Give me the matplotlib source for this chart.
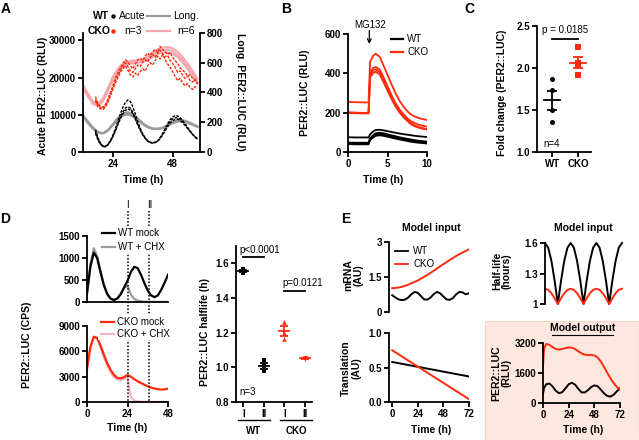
import numpy as np
import matplotlib
matplotlib.use("Agg")
import matplotlib.pyplot as plt
from matplotlib.lines import Line2D
from matplotlib.patches import Rectangle
import matplotlib.transforms as mtrans

plt.rcParams['font.family'] = ['Liberation Sans', 'DejaVu Sans']
plt.rcParams['font.weight'] = 'bold'

# ---------------- DATA ----------------
# Panel A: acute recordings (RLU, left axis), hourly from 17 h
acute_t = np.arange(17, 59, 1)
acute_wt_1 = [6000, 3800, 2400, 1600, 1500, 2000, 3100, 4500, 6300, 8300,
              10200, 12000, 13300, 14000, 13600, 12200, 10300, 8200, 6400, 4900,
              3800, 3000, 2600, 2500, 2600, 3000, 3900, 5000, 6300, 7600,
              8700, 9400, 9800, 9700, 9300, 8500, 7600, 6600, 5700, 4800,
              4100, 3600]
acute_wt_2 = [5400, 3500, 2200, 1500, 1400, 1900, 2900, 4200, 5800, 7600,
              9300, 10800, 11800, 12200, 11800, 10700, 9200, 7500, 6000, 4700,
              3700, 3000, 2600, 2500, 2600, 3000, 3800, 4800, 6000, 7200,
              8200, 8900, 9200, 9200, 8900, 8200, 7400, 6500, 5600, 4800,
              4100, 3500]
acute_wt_3 = [5000, 3300, 2100, 1500, 1500, 2000, 2900, 4100, 5600, 7300,
              8900, 10200, 11200, 11600, 11300, 10300, 8900, 7300, 5800, 4600,
              3600, 2900, 2500, 2400, 2500, 2900, 3600, 4600, 5700, 6800,
              7800, 8400, 8700, 8800, 8500, 7900, 7100, 6300, 5500, 4700,
              4000, 3400]
acute_cko_1 = [14900, 13000, 12300, 12000, 12800, 14200, 16000, 17800, 19800, 21200,
               22600, 23800, 24800, 24300, 23200, 22400, 23600, 24800, 25200, 24600,
               25800, 26600, 25900, 26900, 27600, 26800, 28400, 27600, 27000, 26200,
               26800, 25400, 24600, 23800, 22600, 22000, 21400, 20400, 20800, 19800,
               19200, 18600]
acute_cko_2 = [14200, 12600, 11900, 11800, 12400, 13800, 15600, 17400, 19200, 20600,
               22000, 23200, 24000, 23000, 21800, 21400, 22400, 23400, 23000, 24200,
               24800, 24200, 25400, 26200, 25400, 26600, 27400, 26400, 25600, 26000,
               24600, 23800, 22800, 21400, 21800, 20600, 19800, 20400, 19200, 18800,
               19600, 18200]
acute_cko_3 = [13800, 12200, 11600, 11400, 12000, 13400, 15000, 16800, 18600, 20000,
               21400, 22400, 23200, 22000, 20800, 20200, 21200, 20600, 21600, 22400,
               21800, 23200, 24000, 23400, 24600, 25800, 25000, 26200, 24800, 23600,
               22800, 21600, 20400, 19200, 19800, 18600, 17800, 18400, 17400, 16800,
               17600, 17200]
# Panel A: longitudinal recordings (RLU, right axis), every 2 h from 12 h
long_t = np.arange(12, 60, 2)
long_wt_1 = [245, 200, 160, 130, 125, 145, 185, 225, 253, 262, 248, 220,
             190, 168, 156, 155, 162, 178, 196, 208, 210, 200, 185, 170]
long_wt_2 = [235, 192, 155, 128, 124, 142, 180, 218, 244, 252, 240, 214,
             186, 166, 155, 154, 160, 175, 192, 203, 205, 196, 182, 168]
long_wt_3 = [250, 206, 166, 135, 128, 148, 188, 230, 258, 268, 254, 226,
             195, 172, 159, 157, 164, 181, 200, 213, 215, 205, 189, 174]
long_cko_1 = [440, 385, 330, 318, 350, 420, 495, 550, 585, 600, 605, 608,
              612, 630, 655, 675, 686, 688, 680, 655, 618, 572, 522, 472]
long_cko_2 = [425, 372, 322, 310, 340, 408, 482, 538, 574, 590, 596, 600,
              604, 618, 640, 658, 668, 670, 662, 638, 602, 558, 510, 462]
long_cko_3 = [450, 395, 340, 326, 360, 430, 505, 560, 594, 610, 614, 617,
              622, 642, 668, 690, 702, 706, 698, 675, 640, 596, 545, 492]

# Panel B: MG132 response (RLU)
b_t = [0, 1, 2, 2.6, 2.8, 3.2, 3.5, 4, 4.5, 5, 5.5, 6, 6.5, 7, 7.5, 8, 8.5, 9, 9.5, 10]
b_wt_1 = [75, 74, 74, 74, 90, 105, 112, 113, 110, 106, 102, 98, 94, 91, 88, 85, 82, 80, 78, 76]
b_wt_2 = [48, 47, 47, 47, 70, 86, 95, 98, 95, 90, 85, 80, 75, 71, 67, 63, 60, 57, 55, 53]
b_wt_3 = [44, 43, 43, 43, 65, 80, 88, 91, 88, 84, 79, 74, 70, 66, 62, 58, 55, 52, 50, 48]
b_wt_4 = [40, 39, 39, 39, 60, 74, 82, 85, 82, 78, 73, 68, 64, 60, 56, 52, 49, 47, 45, 43]
b_cko_1 = [255, 253, 252, 252, 460, 490, 500, 485, 440, 392, 345, 300, 262, 232, 208, 190, 180, 172, 167, 163]
b_cko_2 = [200, 199, 198, 198, 405, 428, 432, 420, 380, 335, 290, 250, 218, 193, 172, 156, 146, 138, 133, 129]
b_cko_3 = [198, 197, 196, 196, 392, 415, 420, 408, 366, 322, 278, 240, 208, 183, 163, 145, 134, 126, 121, 117]
b_cko_4 = [202, 200, 199, 199, 380, 402, 408, 396, 355, 312, 270, 233, 202, 178, 158, 140, 130, 123, 118, 115]
mg132_time = 2.7

# Panel C: fold change
c_groups = ['WT', 'CKO']
c_wt = [1.865, 1.74, 1.50, 1.36]
c_cko = [2.25, 2.06, 2.03, 1.92]

# Panel D: CHX chase (CPS), every 2 h
d_t = np.arange(0, 50, 2)
d_wt_mock = [200, 800, 1120, 1000, 680, 380, 180, 75, 45, 80, 180, 330, 480,
             680, 800, 770, 620, 430, 260, 150, 110, 150, 280, 440, 620]
d_wt_chx = [180, 850, 1220, 1050, 700, 390, 185, 75, 45, 80, 180, 320, 370,
            170, 70, 30, 15, 8, 5, 4, 3, 3, 2, 2, 2]
d_cko_mock = [4000, 6500, 7700, 7600, 6700, 5600, 4600, 3800, 3200, 2850, 2800, 2950, 3200,
              3000, 2700, 2450, 2250, 2050, 1850, 1700, 1600, 1520, 1480, 1500, 1580]
d_cko_chx = [3800, 6400, 7800, 7500, 6500, 5300, 4300, 3500, 2900, 2650, 2600, 2750, 2900,
             600, 150, 60, 30, 20, 15, 12, 10, 10, 10, 10, 10]
d_chx_times = [24, 37]
d_chx_labels = ['I', 'II']
# Panel D: half-lives (h)
d_hl_labels = ['I', 'II', 'I', 'II']
d_hl_wt_I = [1.545, 1.555, 1.565]
d_hl_wt_II = [0.98, 1.01, 1.04]
d_hl_cko_I = [1.16, 1.20, 1.26]
d_hl_cko_II = [1.048, 1.052, 1.056]

# Panel E: model (every 3 h)
e_t = np.arange(0, 75, 3)
e_mrna_wt = [0.72, 0.62, 0.54, 0.51, 0.53, 0.62, 0.76, 0.86, 0.82, 0.68, 0.54, 0.53, 0.62,
             0.77, 0.86, 0.80, 0.66, 0.54, 0.52, 0.60, 0.76, 0.86, 0.84, 0.76, 0.80]
e_mrna_cko = [1.02, 1.03, 1.05, 1.08, 1.12, 1.17, 1.23, 1.29, 1.35, 1.43, 1.51, 1.59, 1.68,
              1.77, 1.86, 1.96, 2.05, 2.14, 2.23, 2.32, 2.40, 2.48, 2.55, 2.62, 2.68]
e_hl_wt = [1.6, 1.554, 1.424, 1.23, 1.0, 1.23, 1.424, 1.554,
           1.6, 1.554, 1.424, 1.23, 1.0, 1.23, 1.424, 1.554,
           1.6, 1.554, 1.424, 1.23, 1.0, 1.23, 1.424, 1.554, 1.6]
e_hl_cko = [1.15, 1.139, 1.106, 1.057, 1.0, 1.057, 1.106, 1.139,
            1.15, 1.139, 1.106, 1.057, 1.0, 1.057, 1.106, 1.139,
            1.15, 1.139, 1.106, 1.057, 1.0, 1.057, 1.106, 1.139, 1.15]
e_tr_t = [0, 72]
e_tr_wt = [0.58, 0.37]
e_tr_cko = [0.75, 0.04]
e_out_t = [0, 1, 3, 6, 9, 12, 15, 18, 21, 24, 27, 30, 33, 36, 39, 42, 45, 48, 51, 54, 57, 60, 63, 66, 69, 72]
e_out_wt = [500, 800, 1000, 1040, 880, 650, 520, 580, 780, 1000, 1080, 980, 760,
            570, 560, 680, 850, 940, 900, 720, 520, 380, 340, 440, 620, 780]
e_out_cko = [2000, 2900, 3150, 3100, 2980, 2880, 2850, 2880, 2930, 2960, 2950, 2880, 2760,
             2650, 2580, 2560, 2560, 2540, 2430, 2220, 1930, 1620, 1330, 1070, 860, 720]

# ---------------- STYLE ----------------
RED = '#ff2a0d'
PINK = '#f5a6ae'
GRAY = '#9b9b9b'
LPINK = '#f7b6c6'
BG = '#fde7de'
W, H = 639, 440
fig = plt.figure(figsize=(W / 100, H / 100), dpi=100)
fig.patch.set_facecolor('white')


def fx(x):
    return x / W


def fy(y):
    return 1 - y / H


def axpx(l, t, r, b):
    ax = fig.add_axes([l / W, 1 - b / H, (r - l) / W, (b - t) / H])
    ax.patch.set_visible(False)
    return ax


LW_SP = 1.3


def style(ax, left=True, bottom=True, right=False):
    ax.spines['top'].set_visible(False)
    ax.spines['right'].set_visible(right)
    ax.spines['left'].set_visible(left)
    ax.spines['bottom'].set_visible(bottom)
    for s in ax.spines.values():
        s.set_linewidth(LW_SP)
    ax.tick_params(width=LW_SP, length=3.5, labelsize=7, pad=1.5)


def ftext(x, y, s, size=7, weight='bold', ha='center', va='center', **kw):
    fig.text(fx(x), fy(y), s, fontsize=size, fontweight=weight, ha=ha, va=va, zorder=4, **kw)


def fline(x0, x1, y0, y1, color='k', lw=1.3, **kw):
    fig.add_artist(Line2D([fx(x0), fx(x1)], [fy(y0), fy(y1)], color=color, lw=lw,
                          transform=fig.transFigure, zorder=4, **kw))


def legend_entry(x0, x1, y, color, label, tx, lw=1.6):
    fline(x0, x1, y, y, color=color, lw=lw)
    ftext(tx, y, label, size=7, weight='normal', ha='left')


def white_box(x0, y0, x1, y1):
    fig.add_artist(Rectangle((fx(x0), fy(y1)), fx(x1) - fx(x0), fy(y0) - fy(y1),
                             transform=fig.transFigure, facecolor='white', edgecolor='none', zorder=3))


# panel letters
for lab, x, y in [('A', 6, 9), ('B', 286, 9), ('C', 469, 9), ('D', 5, 219), ('E', 346, 219)]:
    ftext(x, y, lab, size=10)

# ---------------- PANEL A ----------------
axA = axpx(83, 33, 200, 152)
axA2 = axA.twinx()
axA2.patch.set_visible(False)
axA.set_zorder(axA2.get_zorder() + 1)
for rep in [long_wt_1, long_wt_2, long_wt_3]:
    axA2.plot(long_t, rep, color=GRAY, lw=1.4)
for rep in [long_cko_1, long_cko_2, long_cko_3]:
    axA2.plot(long_t, rep, color=PINK, lw=1.4)
for rep in [acute_wt_1, acute_wt_2, acute_wt_3]:
    axA.plot(acute_t, rep, color='k', lw=1.0, ls=(0, (2, 1)))
for rep in [acute_cko_1, acute_cko_2, acute_cko_3]:
    axA.plot(acute_t, rep, color=RED, lw=1.0, ls=(0, (2, 1)))
axA.set_xlim(12, 59)
axA.set_ylim(0, 32000)
axA2.set_ylim(0, 800)
axA.set_xticks([24, 48])
axA.set_yticks([0, 10000, 20000, 30000])
axA2.set_yticks([0, 200, 400, 600, 800])
style(axA)
style(axA2, left=False, bottom=False, right=True)
ftext(43, 96, 'Acute PER2::LUC (RLU)', size=7.5, rotation=90)
ftext(240, 92, 'Long. PER2::LUC (RLU)', size=7.5, rotation=270)
ftext(143, 180, 'Time (h)', size=7.5)
# legend A
ftext(101, 16, 'WT', size=7.5)
fig.add_artist(Line2D([fx(113)], [fy(16)], marker='o', ms=2.2, color='k', lw=0, transform=fig.transFigure))
ftext(132, 16, 'Acute', size=7.5, weight='normal')
fline(147, 170, 16, 16, color=GRAY, lw=1.6)
ftext(186, 16, 'Long.', size=7.5, weight='normal')
ftext(99, 31, 'CKO', size=7.5)
fig.add_artist(Line2D([fx(113)], [fy(31)], marker='o', ms=2.2, color=RED, lw=0, transform=fig.transFigure))
ftext(133, 31, 'n=3', size=7.5, weight='normal')
fline(147, 170, 31, 31, color=PINK, lw=1.6)
ftext(186, 31, 'n=6', size=7.5, weight='normal')

# ---------------- PANEL B ----------------
axB = axpx(348, 34, 427, 152)
for rep in [b_wt_1, b_wt_2, b_wt_3, b_wt_4]:
    axB.plot(b_t, rep, color='k', lw=1.3)
for rep in [b_cko_1, b_cko_2, b_cko_3, b_cko_4]:
    axB.plot(b_t, rep, color=RED, lw=1.3)
axB.set_xlim(0, 10)
axB.set_ylim(0, 600)
axB.set_xticks([0, 5, 10])
axB.set_yticks([0, 200, 400, 600])
style(axB)
axB.annotate('', xy=(mg132_time, 535), xytext=(mg132_time, 632),
             arrowprops=dict(arrowstyle='->', lw=0.9, color='k', mutation_scale=7),
             annotation_clip=False)
ftext(370, 25, 'MG132', size=7, weight='normal')
legend_entry(391, 403, 39, 'k', 'WT', 407)
legend_entry(391, 403, 52, RED, 'CKO', 407)
ftext(305, 93, 'PER2::LUC (RLU)', size=7.5, rotation=90)
ftext(383, 180, 'Time (h)', size=7.5)

# ---------------- PANEL C ----------------
axC = axpx(537, 26, 591, 152)
for i, (vals, col, mk) in enumerate([(c_wt, 'k', 'o'), (c_cko, RED, 's')]):
    axC.scatter([i] * len(vals), vals, s=13, color=col, marker=mk, zorder=3, clip_on=False, linewidths=0)
    m = np.mean(vals)
    se = np.std(vals, ddof=1) / np.sqrt(len(vals))
    axC.plot([i - 0.31, i + 0.31], [m, m], color=col, lw=1.3)
    axC.errorbar(i, m, yerr=se, color=col, capsize=3.5, elinewidth=1.3, capthick=1.3)
axC.plot([0, 1], [2.34, 2.34], color='k', lw=1.3)
axC.text(0.5, 2.455, 'p = 0.0185', ha='center', va='center', fontsize=7, fontweight='normal')
axC.text(-0.35, 1.095, 'n=4', ha='left', va='center', fontsize=7, fontweight='normal')
axC.set_xlim(-0.58, 1.49)
axC.set_ylim(1.0, 2.5)
axC.set_xticks([0, 1])
axC.set_xticklabels(c_groups)
axC.set_yticks([1.0, 1.5, 2.0, 2.5])
style(axC)
ftext(502, 93, 'Fold change (PER2::LUC)', size=7.5, rotation=90)

# ---------------- PANEL D (left) ----------------
axD1 = axpx(87, 236, 168, 302)
axD1.plot(d_t, d_wt_chx, color=GRAY, lw=1.6)
axD1.plot(d_t, d_wt_mock, color='k', lw=1.6)
axD1.set_xlim(0, 48)
axD1.set_ylim(0, 1500)
axD1.set_yticks([0, 500, 1000, 1500])
axD1.set_xticks([])
style(axD1)
axD2 = axpx(87, 326, 168, 402)
axD2.plot(d_t, d_cko_chx, color=LPINK, lw=1.6)
axD2.plot(d_t, d_cko_mock, color=RED, lw=1.6)
axD2.set_xlim(0, 48)
axD2.set_ylim(0, 9000)
axD2.set_yticks([0, 3000, 6000, 9000])
axD2.set_xticks([0, 24, 48])
style(axD2)
blend = mtrans.blended_transform_factory(axD2.transData, fig.transFigure)
for tt, lab in zip(d_chx_times, d_chx_labels):
    fig.add_artist(Line2D([tt, tt], [fy(211), fy(402)], color='k', lw=1.1, ls=(0, (1, 1.2)),
                          transform=blend, zorder=2))
    fig.text(tt, fy(205), lab, transform=blend, ha='center', va='center', fontsize=7, fontweight='normal')
white_box(99, 226, 160, 254)
white_box(98, 315, 165, 340)
legend_entry(102, 115, 233, 'k', 'WT mock', 118)
legend_entry(102, 115, 247, GRAY, 'WT + CHX', 118)
legend_entry(101, 114, 322, RED, 'CKO mock', 117)
legend_entry(101, 114, 334, LPINK, 'CKO + CHX', 117)
ftext(27, 345, 'PER2::LUC (CPS)', size=7.5, rotation=90)
ftext(127, 428, 'Time (h)', size=7.5)

# ---------------- PANEL D (right) ----------------
axD3 = axpx(236, 246, 312, 402)
hl_sets = [(d_hl_wt_I, 'k', 's'), (d_hl_wt_II, 'k', 's'), (d_hl_cko_I, RED, '^'), (d_hl_cko_II, RED, 'v')]
for i, (vals, col, mk) in enumerate(hl_sets):
    axD3.scatter([i] * len(vals), vals, s=11, color=col, marker=mk, zorder=3, linewidths=0)
    m = np.mean(vals)
    se = np.std(vals, ddof=1) / np.sqrt(len(vals))
    axD3.plot([i - 0.25, i + 0.25], [m, m], color=col, lw=1.3)
    axD3.errorbar(i, m, yerr=se, color=col, capsize=3, elinewidth=1.3, capthick=1.3)
axD3.plot([0, 1], [1.636, 1.636], color='k', lw=1.3)
axD3.text(-0.2, 1.675, 'p<0.0001', ha='left', va='center', fontsize=7, fontweight='normal')
axD3.plot([2, 3], [1.44, 1.44], color='k', lw=1.3)
axD3.text(1.9, 1.487, 'p=0.0121', ha='left', va='center', fontsize=7, fontweight='normal')
axD3.text(-0.2, 0.855, 'n=3', ha='left', va='center', fontsize=7, fontweight='normal')
axD3.set_xlim(-0.35, 3.35)
axD3.set_ylim(0.8, 1.698)
axD3.set_yticks([0.8, 1.0, 1.2, 1.4, 1.6])
axD3.set_xticks([0, 1, 2, 3])
axD3.set_xticklabels(d_hl_labels)
style(axD3)
fline(238, 270, 420, 420, lw=1.0)
fline(280, 312, 420, 420, lw=1.0)
ftext(254, 431, 'WT', size=7)
ftext(296, 431, 'CKO', size=7)
ftext(205, 332, 'PER2::LUC halflife (h)', size=7.5, rotation=90)

# ---------------- PANEL E ----------------
fig.add_artist(Rectangle((fx(485), 0), fx(639) - fx(485), fy(321), transform=fig.transFigure,
                         facecolor=BG, edgecolor='#f6d3c7', lw=0.8, zorder=-5))
axE1 = axpx(389, 242, 469, 312)
axE1.plot(e_t, e_mrna_wt, color='k', lw=1.4)
axE1.plot(e_t, e_mrna_cko, color=RED, lw=1.4)
axE1.set_xlim(-3, 72)
axE1.set_ylim(0, 3)
axE1.set_yticks([0, 1.5, 3])
axE1.set_yticklabels(['0', '1.5', '3'])
axE1.set_xticks([])
style(axE1, bottom=False)
legend_entry(395, 408, 251, 'k', 'WT', 413, lw=1.3)
legend_entry(395, 408, 264, RED, 'CKO', 413, lw=1.3)
ftext(431, 228, 'Model input', size=7.5)
ftext(353, 275, 'mRNA\n(AU)', size=7.5, rotation=90, linespacing=1.0)

axE2 = axpx(389, 333, 469, 402)
axE2.plot(e_tr_t, e_tr_wt, color='k', lw=1.4)
axE2.plot(e_tr_t, e_tr_cko, color=RED, lw=1.4)
axE2.set_xlim(-3, 72)
axE2.set_ylim(0, 1)
axE2.set_yticks([0, 0.5, 1.0])
axE2.set_yticklabels(['0.0', '0.5', '1.0'])
axE2.set_xticks([0, 24, 48, 72])
style(axE2)
ftext(351, 368, 'Translation\n(AU)', size=7.5, rotation=90, linespacing=1.0)
ftext(431, 430, 'Time (h)', size=7.5)

axE3 = axpx(545, 243, 622, 304)
axE3.plot(e_t, e_hl_wt, color='k', lw=1.4, clip_on=False)
axE3.plot(e_t, e_hl_cko, color=RED, lw=1.4, clip_on=False)
axE3.set_xlim(0, 72)
axE3.set_ylim(1, 1.6)
axE3.set_yticks([1, 1.3, 1.6])
axE3.set_yticklabels(['1', '1.3', '1.6'])
axE3.set_xticks([])
style(axE3, bottom=False)
ftext(583, 228, 'Model input', size=7.5)
ftext(502, 271, 'Half-life\n(hours)', size=7.5, rotation=90, linespacing=1.0)

axE4 = axpx(543, 343, 620, 403)
axE4.plot(e_out_t, e_out_wt, color='k', lw=1.4)
axE4.plot(e_out_t, e_out_cko, color=RED, lw=1.4)
axE4.set_xlim(0, 72)
axE4.set_ylim(0, 3200)
axE4.set_yticks([0, 1600, 3200])
axE4.set_xticks([0, 24, 48, 72])
style(axE4)
ftext(583, 328, 'Model output', size=7.5)
fline(552, 613, 334.5, 334.5, lw=0.8)
ftext(501, 373, 'PER2::LUC\n(RLU)', size=7.5, rotation=90, linespacing=1.0)
ftext(583, 430, 'Time (h)', size=7.5)

fig.savefig('out.png', dpi=100, facecolor='white')
